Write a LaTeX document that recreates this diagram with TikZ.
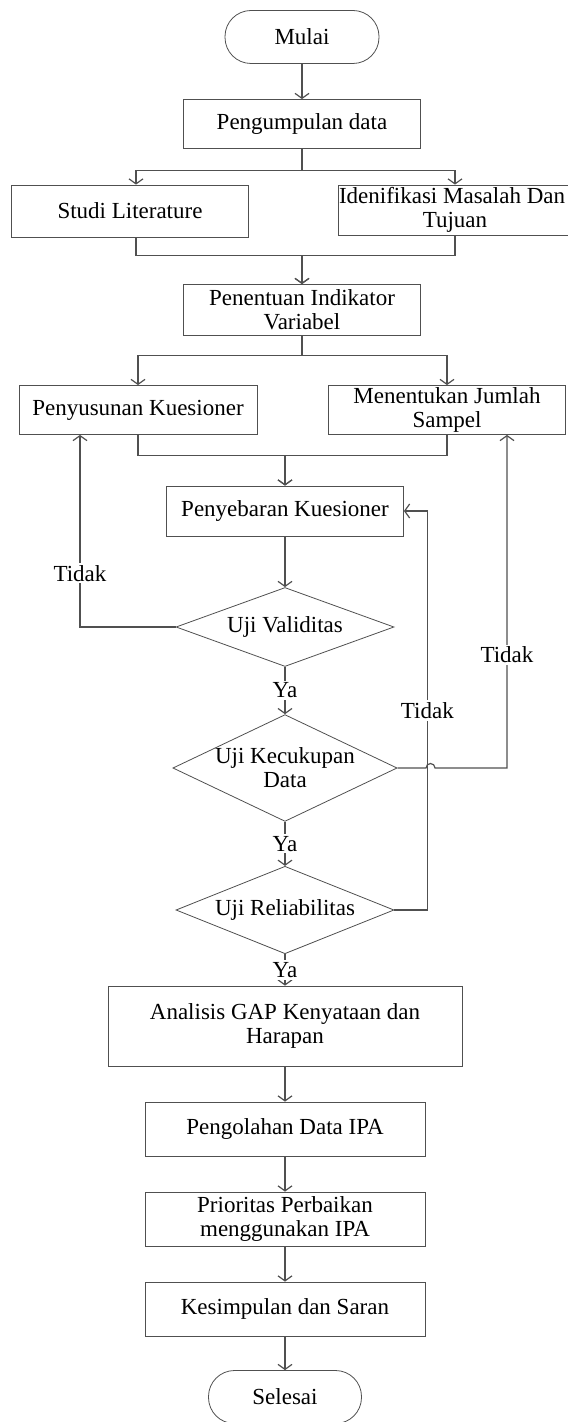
\documentclass[tikz,border=0pt]{standalone}
\usepackage{fontspec}
\setmainfont{Liberation Serif}
\usepackage{tikz}
\usetikzlibrary{arrows.meta, positioning, shapes.geometric}
\definecolor{linegray}{RGB}{80,80,80}

\begin{document}
\begin{tikzpicture}[node distance=43.5pt,
    every node/.style={font=\fontsize{11.5}{12}\selectfont},
    box/.style={draw=linegray, rectangle, align=center, inner sep=0pt, minimum width=118.5pt, minimum height=25pt},
    wide/.style={box, minimum width=140pt, minimum height=27pt},
    term/.style={box, rounded corners=13pt, minimum width=77pt, minimum height=26.5pt},
    decision/.style={draw=linegray, diamond, aspect=2.1, align=center, inner sep=0pt, minimum width=109pt, minimum height=40pt},
    lbl/.style={fill=white, inner sep=1pt},
    arr/.style={-{Straight Barb[length=2.5pt,width=7pt]}, draw=linegray, line width=0.6pt}]
        \useasboundingbox (-151pt,18.5pt) rectangle (132.5pt,-692.5pt);

        \node[term] (mulai) {Mulai};
        \node[box, minimum height=24.5pt] (kumpul) [below of = mulai] {Pengumpulan data};
        \node[box, minimum height=26pt] (studi) [below of = kumpul, xshift=-86pt] {Studi Literature};
        \node[box, minimum width=117pt] (idenif) [node distance=43pt, below of = kumpul, xshift=76.5pt] {\makebox[116pt][l]{Idenifikasi Masalah Dan}\\Tujuan};
        \node[box, minimum height=25.5pt] (tentu) [node distance=93pt, below of = kumpul] {Penentuan Indikator\\Variabel};
        \node[box, minimum width=119pt, minimum height=24.5pt] (susun) [node distance=50pt, below of = tentu, xshift=-82pt] {Penyusunan Kuesioner};
        \node[box, minimum height=24.5pt] (sampel) [node distance=50pt, below of = tentu, xshift=72.5pt] {Menentukan Jumlah\\Sampel};
        \node[box] (sebar) [node distance=100.5pt, below of = tentu, xshift=-8.5pt] {Penyebaran Kuesioner};
        \node[decision, minimum height=39.5pt] (valid) [node distance=58pt, below of = sebar] {Uji Validitas};
        \node[decision, minimum height=51.5pt] (cukup) [node distance=70.5pt, below of = valid] {Uji Kecukupan\\Data};
        \node[decision] (reliab) [node distance=71pt, below of = cukup] {Uji Reliabilitas};
        \node[box, minimum width=177pt, minimum height=40pt] (gap) [node distance=58pt, below of = reliab] {Analisis GAP Kenyataan dan\\Harapan};
        \node[wide] (olah) [node distance=51.5pt, below of = gap] {Pengolahan Data IPA};
        \node[wide] (prior) [node distance=45pt, below of = olah] {Prioritas Perbaikan\\menggunakan IPA};
        \node[wide] (simpul) [node distance=45pt, below of = prior] {Kesimpulan dan Saran};
        \node[term, minimum width=76.5pt] (selesai) [node distance=44pt, below of = simpul] {Selesai};

        \path[arr] (mulai) edge (kumpul);
        \draw[arr] (kumpul.south) -- ++(0,-11pt) -| ([xshift=3pt]studi.north);
        \draw[arr] (kumpul.south) -- ++(0,-11pt) -| (idenif.north);
        \draw[arr] ([xshift=3pt]studi.south) -- ++(0,-9pt) -| (tentu.north);
        \draw[arr] (idenif.south) -- ++(0,-10pt) -| (tentu.north);

        \draw[arr] (tentu.south) -- ++(0,-10pt) -| (susun.north);
        \draw[arr] (tentu.south) -- ++(0,-10pt) -| (sampel.north);
        \draw[arr] (susun.south) -- ++(0,-10.5pt) -| (sebar.north);
        \draw[arr] (sampel.south) -- ++(0,-10.5pt) -| (sebar.north);

        \path[arr] (sebar) edge (valid);
        \draw[arr] (valid.west) -| ([xshift=-29pt]susun.south) node[lbl, pos=0.64] {Tidak};
        \path[arr] (valid) edge node[lbl] {Ya} (cukup);
        \draw[arr] (cukup.east) -- ++(14.25pt,0) arc[start angle=180, end angle=0, radius=2.25pt]
          -| ([xshift=30pt]sampel.south) node[lbl, pos=0.67] {Tidak};
        \path[arr] (cukup) edge node[lbl] {Ya} (reliab);
        \draw[arr] (reliab.east) -- ++(16.5pt,0) |- (sebar.east) node[lbl, pos=0.25] {Tidak};
        \path[arr] (reliab) edge node[lbl] {Ya} (gap);

        \path[arr] (gap) edge (olah);
        \path[arr] (olah) edge (prior);
        \path[arr] (prior) edge (simpul);
        \path[arr] (simpul) edge (selesai);
      \end{tikzpicture}
\end{document}
